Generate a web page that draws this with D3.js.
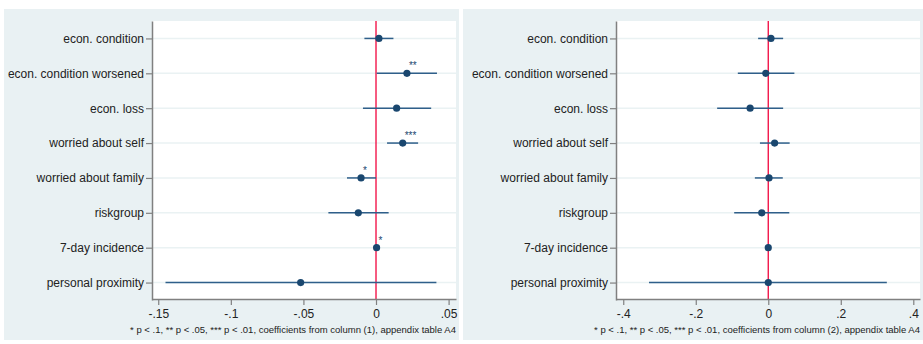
<!DOCTYPE html>
<html><head><meta charset="utf-8">
<script src="https://cdn.jsdelivr.net/npm/d3@7"></script>
<style>body{margin:0;background:#fff}svg{display:block}</style>
</head><body>
<svg id="c" width="923" height="344"></svg>
<script>
const categories = ["econ. condition","econ. condition worsened","econ. loss","worried about self","worried about family","riskgroup","7-day incidence","personal proximity"];

const coef1 = [0.002, 0.0213, 0.0142, 0.0184, -0.0103, -0.0122, 0.0004, -0.0519];
const lo1   = [-0.008, 0.0005, -0.009, 0.0076, -0.020, -0.0328, 0.0000, -0.145];
const hi1   = [0.012, 0.042, 0.038, 0.029, 0.0000, 0.0087, 0.0008, 0.0416];
const stars1 = ["", "**", "", "***", "*", "", "*", ""];

const coef2 = [0.0074, -0.007, -0.050, 0.0175, 0.002, -0.018, 0.000, 0.000];
const lo2   = [-0.028, -0.084, -0.141, -0.023, -0.037, -0.094, -0.002, -0.329];
const hi2   = [0.041, 0.072, 0.041, 0.059, 0.040, 0.058, 0.002, 0.327];
const stars2 = ["", "", "", "", "", "", "", ""];

const ticks1 = [-0.15, -0.1, -0.05, 0, 0.05];
const tickLabels1 = ["-.15", "-.1", "-.05", "0", ".05"];
const ticks2 = [-0.4, -0.2, 0, 0.2, 0.4];
const tickLabels2 = ["-.4", "-.2", "0", ".2", ".4"];

const note1 = "* p < .1, ** p < .05, *** p < .01, coefficients from column (1), appendix table A4";
const note2 = "* p < .1, ** p < .05, *** p < .01, coefficients from column (2), appendix table A4";

const svg = d3.select("#c");
const FONT = "'Liberation Sans', Arial, sans-serif";
const BG = "#e9f1f3", GRID = "#eaf2f3", NAVY = "#1a476f", CI = "#2f5f8a", RED = "#f2164a", AX = "#808080";

function panel(cfg) {
  const g = svg.append("g");
  g.append("rect").attr("x", cfg.px).attr("y", 9).attr("width", cfg.pw).attr("height", 331).attr("fill", BG);
  const x = d3.scaleLinear().domain(cfg.domain).range([cfg.x0, cfg.x1]);
  const y = d3.scalePoint().domain(categories).range([21, 300]).padding(0.5);
  g.append("rect").attr("x", cfg.x0).attr("y", 21).attr("width", cfg.x1 - cfg.x0).attr("height", 279).attr("fill", "#fff");
  // grid
  g.selectAll("line.grid").data(categories).join("line")
    .attr("x1", cfg.x0).attr("x2", cfg.x1).attr("y1", d => y(d)).attr("y2", d => y(d))
    .attr("stroke", GRID).attr("stroke-width", 1.5);
  // zero line
  g.append("line").attr("x1", x(0)).attr("x2", x(0)).attr("y1", 21).attr("y2", 299)
    .attr("stroke", RED).attr("stroke-width", 1.4);
  // CI
  g.selectAll("line.ci").data(categories).join("line")
    .attr("x1", (d, i) => x(cfg.lo[i])).attr("x2", (d, i) => x(cfg.hi[i]))
    .attr("y1", d => y(d)).attr("y2", d => y(d))
    .attr("stroke", CI).attr("stroke-width", 1.5);
  // points
  g.selectAll("circle").data(categories).join("circle")
    .attr("cx", (d, i) => x(cfg.coef[i])).attr("cy", d => y(d)).attr("r", 3.6).attr("fill", NAVY);
  // stars
  g.selectAll("text.star").data(categories).join("text")
    .attr("x", (d, i) => x(cfg.coef[i]) + 2).attr("y", d => y(d) - 4)
    .attr("font-family", FONT).attr("font-size", 10).attr("fill", NAVY)
    .text((d, i) => cfg.stars[i]);
  // y axis
  const ya = g.append("g").attr("transform", `translate(${cfg.x0},0)`)
    .call(d3.axisLeft(y).tickSizeOuter(0).tickSizeInner(6).tickPadding(2));
  ya.select(".domain").attr("stroke", AX).attr("stroke-width", 1.5);
  ya.selectAll(".tick line").attr("stroke", AX).attr("stroke-width", 1.2);
  ya.selectAll("text").attr("font-family", FONT).attr("font-size", 12).attr("fill", "#222");
  // x axis
  const xa = g.append("g").attr("transform", "translate(0,299)")
    .call(d3.axisBottom(x).tickValues(cfg.ticks).tickFormat((d, i) => cfg.labels[i]).tickSizeOuter(0).tickSizeInner(6).tickPadding(4));
  xa.select(".domain").attr("stroke", AX).attr("stroke-width", 1.5);
  xa.selectAll(".tick line").attr("stroke", AX).attr("stroke-width", 1.2);
  xa.selectAll("text").attr("font-family", FONT).attr("font-size", 12).attr("fill", "#222");
  // note
  g.append("text").attr("x", cfg.x1).attr("y", 332.5).attr("text-anchor", "end")
    .attr("font-family", FONT).attr("font-size", 9.5).attr("fill", "#222").text(cfg.note);
}

panel({px: 4, pw: 455, x0: 152, x1: 456, domain: [-0.1543, 0.0551], coef: coef1, lo: lo1, hi: hi1, stars: stars1, ticks: ticks1, labels: tickLabels1, note: note1});
panel({px: 463, pw: 460, x0: 616, x1: 920, domain: [-0.420, 0.4185], coef: coef2, lo: lo2, hi: hi2, stars: stars2, ticks: ticks2, labels: tickLabels2, note: note2});
</script>
</body></html>
